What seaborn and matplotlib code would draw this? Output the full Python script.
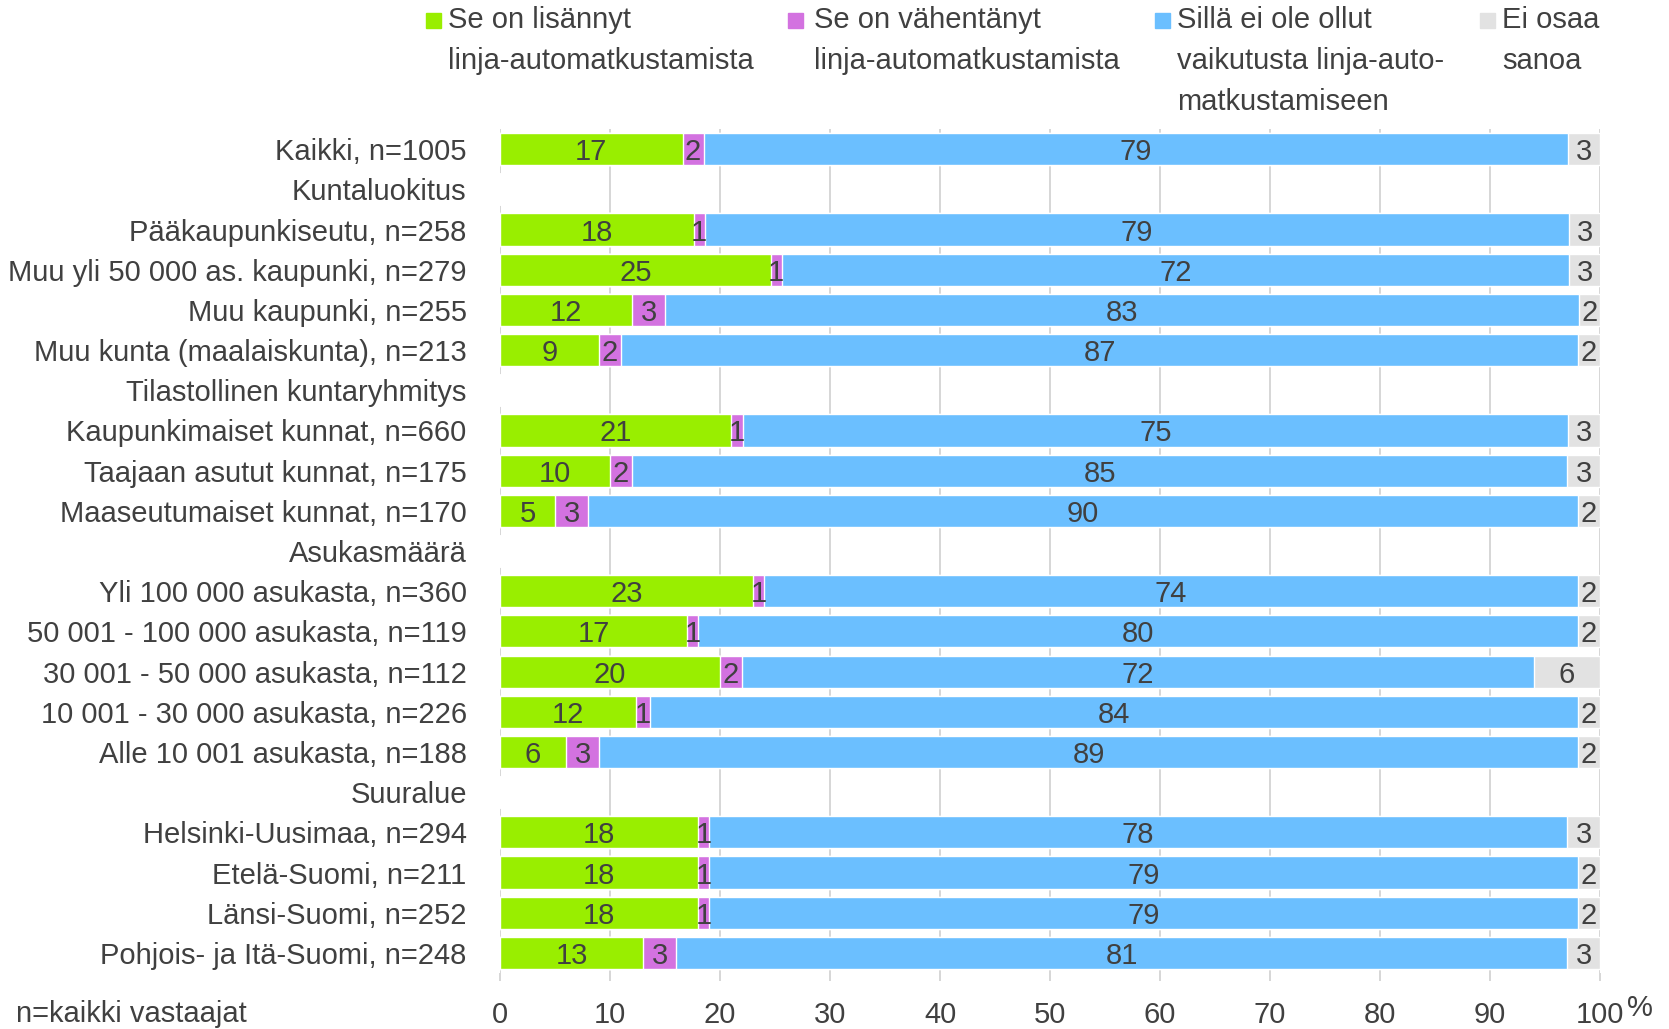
import numpy as np
import pandas as pd
import seaborn as sns
import matplotlib.pyplot as plt
from matplotlib.patches import Rectangle

# rows from top to bottom, headers have no bars
categories = [
    "Kaikki, n=1005",
    "Kuntaluokitus",
    "Pääkaupunkiseutu, n=258",
    "Muu yli 50 000 as. kaupunki, n=279",
    "Muu kaupunki, n=255",
    "Muu kunta (maalaiskunta), n=213",
    "Tilastollinen kuntaryhmitys",
    "Kaupunkimaiset kunnat, n=660",
    "Taajaan asutut kunnat, n=175",
    "Maaseutumaiset kunnat, n=170",
    "Asukasmäärä",
    "Yli 100 000 asukasta, n=360",
    "50 001 - 100 000 asukasta, n=119",
    "30 001 - 50 000 asukasta, n=112",
    "10 001 - 30 000 asukasta, n=226",
    "Alle 10 001 asukasta, n=188",
    "Suuralue",
    "Helsinki-Uusimaa, n=294",
    "Etelä-Suomi, n=211",
    "Länsi-Suomi, n=252",
    "Pohjois- ja Itä-Suomi, n=248",
]
lisannyt = [16.6, 0, 17.6, 24.6, 12, 9, 0, 21, 10, 5, 0, 23, 17, 20, 12.4, 6, 0, 18, 18, 18, 13]
vahentanyt = [1.9, 0, 1.0, 1.0, 3, 2, 0, 1.1, 2, 3, 0, 1, 1, 2, 1.2, 3, 0, 1, 1, 1, 3]
ei_vaikutusta = [78.6, 0, 78.6, 71.6, 83.1, 87, 0, 75, 85, 90, 0, 74, 80, 72, 84.4, 89, 0, 78, 79, 79, 81]
ei_osaa = [2.9, 0, 2.9, 2.9, 1.9, 2, 0, 2.9, 3, 2, 0, 2, 2, 6, 2, 2, 0, 3, 2, 2, 3]

series_names = [
    "Se on lisännyt\nlinja-automatkustamista",
    "Se on vähentänyt\nlinja-automatkustamista",
    "Sillä ei ole ollut\nvaikutusta linja-auto-\nmatkustamiseen",
    "Ei osaa\nsanoa",
]
colors = ["#99EE00", "#D372E0", "#6BBFFF", "#E2E2E2"]
x_ticks = [0, 10, 20, 30, 40, 50, 60, 70, 80, 90, 100]

sns.set_theme(style="white")
plt.rcParams['font.family'] = ['Liberation Sans', 'DejaVu Sans']
txt = "#404040"
fs = 21

df = pd.DataFrame({"cat": categories, "s0": lisannyt, "s1": vahentanyt,
                   "s2": ei_vaikutusta, "s3": ei_osaa})
vals = df[["s0", "s1", "s2", "s3"]].to_numpy()
cum = vals.cumsum(axis=1)

fig = plt.figure(figsize=(16.69, 10.29), dpi=100)
ax = fig.add_axes([0.2996, 0.0544, 0.9587 - 0.2996, 0.8746 - 0.0544])

# draw the cumulative totals, widest first, so they stack
for k in range(3, -1, -1):
    sns.barplot(x=cum[:, k], y=df["cat"], orient="h", color=colors[k],
                saturation=1, width=0.8, order=categories, ax=ax, zorder=2)

for i in range(len(categories)):
    left = 0
    for k in range(4):
        v = vals[i, k]
        if v > 0:
            ax.text(left + v / 2, i, f"{round(v):d}", ha="center", va="center_baseline",
                    fontsize=fs, color=txt, zorder=3)
        left += v

ax.set_xlim(0, 100)
ax.set_ylim(len(categories) - 0.5, -0.5)
ax.set_xticks(x_ticks)
ax.set_xticklabels([str(t) for t in x_ticks])
ax.set_xlabel("")
ax.set_ylabel("")
ax.xaxis.grid(True, color="#D0D0D0", linewidth=1.2, zorder=0)
ax.set_axisbelow(True)
for s in ax.spines.values():
    s.set_visible(False)
ax.tick_params(axis="x", length=6, color="#D0D0D0", width=1.2, pad=14,
               labelsize=fs, labelcolor=txt, bottom=True)
ax.tick_params(axis="y", length=0, pad=24, labelsize=fs, labelcolor=txt)

fig.text(1627 / 1669, 1 - 1008 / 1029, "%", fontsize=fs, color=txt,
         ha="left", va="center")
fig.text(16 / 1669, 1 - 1014 / 1029, "n=kaikki vastaajat", fontsize=fs,
         color=txt, ha="left", va="center")

# legend, drawn by hand so the swatch sits on the first line
sq_x = [426, 788, 1155, 1480]
tx_x = [448, 814, 1177, 1502]
for k in range(4):
    fig.patches.append(Rectangle((sq_x[k] / 1669, 1 - 28 / 1029), 15 / 1669, 15 / 1029,
                                 transform=fig.transFigure, color=colors[k]))
    fig.text(tx_x[k] / 1669, 1 - 6 / 1029, series_names[k], fontsize=fs, color=txt,
             ha="left", va="top", linespacing=1.6)

fig.savefig("out.png", dpi=100)
